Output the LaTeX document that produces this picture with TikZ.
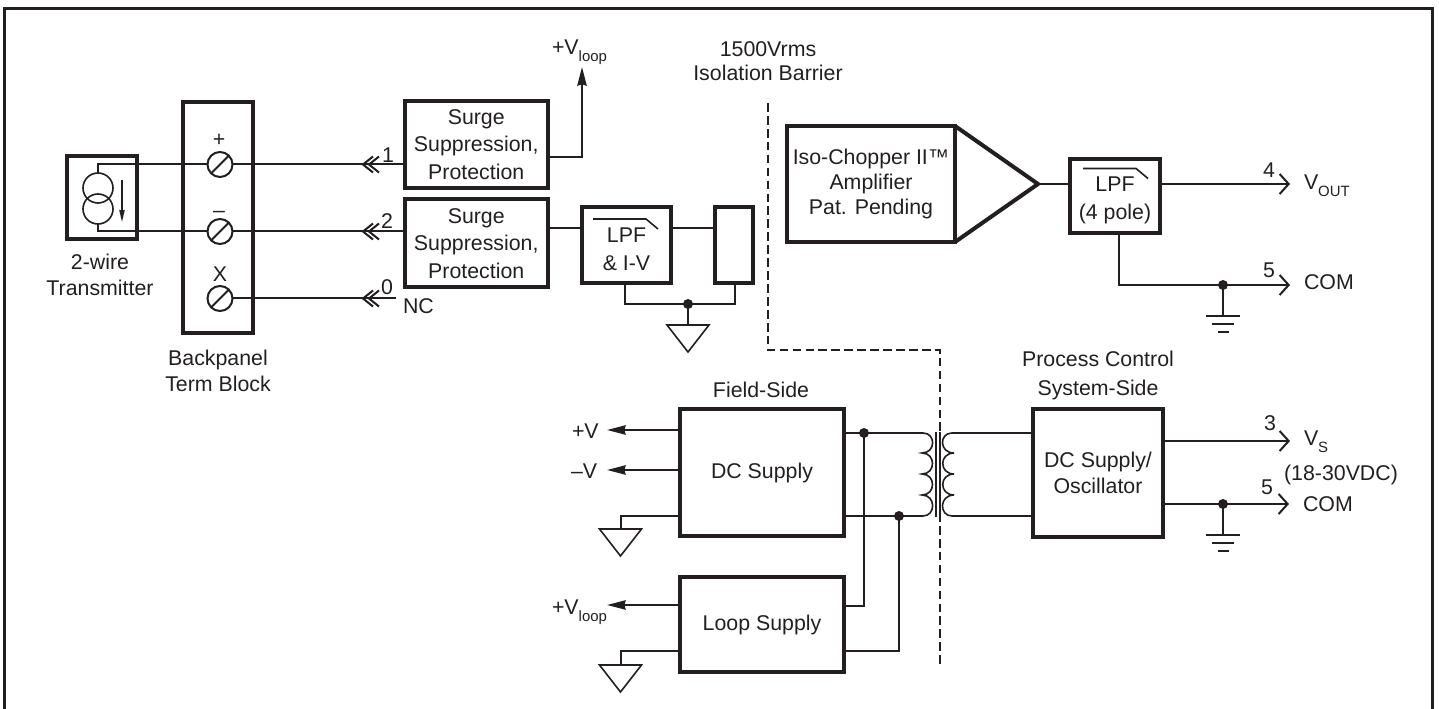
\documentclass[tikz,border=0pt]{standalone}
\usepackage{fontspec}
\setmainfont{Liberation Sans}
\usetikzlibrary{arrows.meta}
\definecolor{ink}{HTML}{231F20}
\newcommand{\bodyfont}[1]{\fontsize{16}{#1}\selectfont}
\newcommand{\sbs}[1]{\raisebox{-5pt}{\fontsize{11.2}{11.2}\selectfont #1}}
\tikzset{
  wire/.style={draw=ink,line width=1.5pt},
  thinw/.style={draw=ink,line width=1.2pt},
  blkbox/.style={draw=ink,line width=3pt,inner sep=0pt,outer sep=0pt,align=center,text=ink},
  lbl/.style={inner sep=0pt,outer sep=0pt,text=ink,font=\bodyfont{19},text height=11.5pt,text depth=0pt},
  mlbl/.style={inner sep=0pt,outer sep=0pt,text=ink,align=center},
  smalldot/.style={circle,fill=ink,draw=none,minimum size=7.5pt,inner sep=0pt,outer sep=0pt},
  screw/.style={circle,draw=ink,line width=1.5pt,minimum size=18.75pt,inner sep=0pt,outer sep=0pt},
  srccirc/.style={circle,draw=ink,line width=1.2pt,minimum size=22.5pt,inner sep=0pt,outer sep=0pt},
  fillarrow/.style={wire,-{Stealth[length=14pt,width=7pt,inset=1pt]}},
  openarrow/.style={wire,-{Straight Barb[length=6.75pt,width=15pt]}},
  barrier/.style={draw=ink,line width=1.1pt,dash pattern=on 6.5pt off 3.2pt},
}
\newcommand{\blk}[7][19]{%
  \pgfmathsetmacro\bw{(#5-#3)*0.75}%
  \pgfmathsetmacro\bh{(#6-#4)*0.75}%
  \pgfmathsetmacro\bx{(#5+#3)/2}%
  \pgfmathsetmacro\by{(#6+#4)/2}%
  \node[blkbox,font=\bodyfont{#1},minimum width=\bw pt,minimum height=\bh pt] (#2) at (\bx,\by) {#7};}
\newcommand{\chev}[2]{%
  \draw[wire] (#1+10,#2-8) -- (#1,#2) -- (#1+10,#2+8);
  \draw[wire] (#1+6+10,#2-8) -- (#1+6,#2) -- (#1+6+10,#2+8);}
\newcommand{\gndtri}[3]{%
  \coordinate (#1) at (#2,#3);
  \draw[thinw,line join=miter] (#2-21,#3) -- (#2+21,#3) -- (#2,#3+27) -- cycle;}
\newcommand{\earth}[3]{%
  \coordinate (#1) at (#2,#3);
  \draw[thinw] (#2-17,#3) -- (#2+17,#3);
  \draw[thinw] (#2-11,#3+8) -- (#2+11,#3+8);
  \draw[thinw] (#2-5.5,#3+16) -- (#2+5.5,#3+16);}
\newcommand{\lpfmark}[2]{%
  \draw[thinw] (#1,#2) -- (#1+53,#2) -- (#1+65,#2+10);}
\begin{document}
\begin{tikzpicture}[x=0.75pt,y=-0.75pt]
\useasboundingbox (0,0) rectangle (1439,709);
% frame
\draw[ink,line width=2.4pt,line join=miter] (4.7,709) -- (4.7,8.5) -- (1432.5,8.5) -- (1432.5,709);

% transmitter
\blk{tx}{67}{156}{137}{239}{}
\node[srccirc] (c1) at (98,188) {};
\node[srccirc] (c2) at (98,209) {};
\coordinate (ta1) at (122,180);
\coordinate (ta2) at (122,222);
\draw[thinw,-{Stealth[length=9pt,width=4pt,inset=0.5pt]}] (ta1) -- (ta2);
\node[mlbl,font=\bodyfont{19.5}] (txl) at (100,274.5) {2-wire\\Transmitter};

% terminal block
\blk{tb}{183}{102}{253}{333}{}
\node[screw] (s1) at (220,164.5) {};
\node[screw] (s2) at (220,231.5) {};
\node[screw] (s3) at (220,298.5) {};
\foreach \s in {s1,s2,s3} \draw[wire] (\s.south west) -- (\s.north east);
\node[lbl] (lp) at (219,139) {+};
\node[lbl] (lm) at (219,210) {–};
\node[lbl] (lx) at (220,274) {X};
\node[mlbl,font=\bodyfont{19}] (tbl) at (218,371) {Backpanel\\Term Block};

\draw[wire] (c1.north) |- (s1.west);
\draw[wire] (c2.south) |- (s2.west);

% surge blocks
\blk[20.6]{su1}{404.5}{101}{548}{188}{Surge\\Suppression,\\Protection}
\blk[20.6]{su2}{404.5}{199.5}{548}{287}{Surge\\Suppression,\\Protection}
\draw[wire] (s1.east) -- (su1.west |- s1.east);
\draw[wire] (s2.east) -- (su2.west |- s2.east);
\coordinate (ncend) at (396,298.5);
\draw[wire] (s3.east) -- (ncend);
\chev{363}{164.5}
\chev{363}{231.5}
\chev{363}{298.5}
\node[lbl] (n1) at (388,155) {1};
\node[lbl] (n2) at (387,221) {2};
\node[lbl] (n0) at (387,287) {0};
\node[lbl,anchor=west] (nc) at (403,306) {NC};

% +Vloop top
\coordinate (vl1) at (582,67);
\draw[fillarrow] (su1.east |- 0,157) -| (vl1);
\node[lbl,anchor=west] (vlt1) at (552,47) {+V\sbs{loop}};

% LPF & I-V
\blk[21]{lpf1}{582}{207}{671}{283}{\rule{0pt}{18pt}LPF\\\& I-V}
\lpfmark{593}{219}
\blk{rb}{715}{207}{753}{283}{}
\draw[wire] (su2.east |- 0,228) -- (lpf1.west |- 0,228);
\draw[wire] (lpf1.east |- 0,228) -- (rb.west |- 0,228);
\node[smalldot] (d1) at (688,304) {};
\gndtri{g1}{688}{325}
\draw[wire] (lpf1.south -| 625,0) |- (d1.center);
\draw[wire] (rb.south -| 735,0) |- (d1.center);
\draw[wire] (d1.center) -- (g1);

% barrier
\coordinate (b0) at (768,103);
\coordinate (b1) at (768,350);
\coordinate (b2) at (940,350);
\coordinate (b3) at (940,665);
\draw[barrier] (b0) -- (b1) -- (b2) -- (b3);
\node[mlbl,font=\bodyfont{18}] (bl) at (768,61) {1500Vrms\\Isolation Barrier};

% amplifier
\blk[18.75]{iso}{787}{126}{955}{242}{Iso-Chopper II™\\Amplifier\\Pat. Pending}
\coordinate (tip) at (1038,184);
\draw[ink,line width=3pt,line join=miter] (iso.north east) -- (tip) -- (iso.south east);
\blk[21]{lpf2}{1070}{159}{1160}{233}{\rule{0pt}{17pt}LPF\\(4 pole)}
\lpfmark{1083}{168.5}
\draw[wire] (tip) -- (lpf2.west |- tip);
\coordinate (o4) at (1290,184);
\draw[openarrow] (lpf2.east |- o4) -- (o4);
\node[lbl] (n4) at (1269,170) {4};
\node[lbl,anchor=west] (vout) at (1304,182) {V\sbs{OUT}};
\node[smalldot] (d2) at (1223,285) {};
\coordinate (o5) at (1290,285);
\draw[wire] (lpf2.south -| 1119,0) |- (d2.center);
\draw[openarrow] (d2.center) -- (o5);
\earth{e1}{1223}{316}
\draw[wire] (d2.center) -- (e1);
\node[lbl] (n5a) at (1269,270) {5};
\node[lbl,anchor=west] (com1) at (1304,282) {COM};

% supplies
\node[lbl] (fs) at (761,390) {Field-Side};
\blk{dc}{680}{409}{844}{536}{DC Supply}
\blk{ls}{680}{577}{844}{672}{Loop Supply}
\coordinate (a1) at (607,430);
\coordinate (a2) at (607,470);
\coordinate (a3) at (607,605);
\draw[fillarrow] (dc.west |- a1) -- (a1);
\draw[fillarrow] (dc.west |- a2) -- (a2);
\draw[fillarrow] (ls.west |- a3) -- (a3);
\node[lbl,anchor=west] (pv) at (572,431) {+V};
\node[lbl,anchor=west] (mv) at (571,471) {–V};
\node[lbl,anchor=west] (vlt2) at (552,607) {+V\sbs{loop}};
\gndtri{g2}{620.5}{529}
\gndtri{g3}{620.5}{665}
\draw[wire] (dc.west |- 0,516) -| (g2);
\draw[wire] (ls.west |- 0,651) -| (g3);

% transformer
\coordinate (tl1) at (923,433);
\coordinate (tl2) at (923,516);
\coordinate (tr1) at (952,433);
\coordinate (tr2) at (952,516);
\node[smalldot] (d3) at (864,433) {};
\node[smalldot] (d4) at (899,516) {};
\draw[wire] (dc.east |- tl1) -- (tl1);
\draw[wire] (dc.east |- tl2) -- (tl2);
\draw[wire] (d3.center) |- (ls.east |- 0,606);
\draw[wire] (d4.center) |- (ls.east |- 0,651);
\draw[thinw] (tl1) .. controls (936,433) and (936,453) .. (922,453)
  .. controls (936,453) and (936,474) .. (922,474)
  .. controls (936,474) and (936,495) .. (922,495)
  .. controls (936,495) and (936,516) .. (tl2);
\draw[thinw] (tr1) .. controls (939,433) and (939,453) .. (954,453)
  .. controls (939,453) and (939,474) .. (954,474)
  .. controls (939,474) and (939,495) .. (954,495)
  .. controls (939,495) and (939,516) .. (tr2);
\coordinate (core1) at (936,432);
\coordinate (core2) at (936,517);
\coordinate (core3) at (940,432);
\coordinate (core4) at (940,517);
\draw[thinw] (core1) -- (core2);
\draw[thinw] (core3) -- (core4);

% system side
\node[mlbl,font=\bodyfont{21.7}] (pcl) at (1098,375.5) {Process Control\\System-Side};
\blk[20]{psu}{1033}{409}{1163}{537}{DC Supply/\\Oscillator}
\draw[wire] (tr1) -- (psu.west |- tr1);
\draw[wire] (tr2) -- (psu.west |- tr2);
\coordinate (o3) at (1290,441);
\draw[openarrow] (psu.east |- o3) -- (o3);
\node[lbl] (n3) at (1270,423) {3};
\node[lbl,anchor=west] (vs) at (1304,438) {V\sbs{S}};
\node[lbl] (rng) at (1341,473) {(18-30VDC)};
\node[smalldot] (d5) at (1223,504) {};
\coordinate (o6) at (1289,504);
\draw[wire] (psu.east |- d5) -- (d5.center);
\draw[openarrow] (d5.center) -- (o6);
\earth{e2}{1223}{535}
\draw[wire] (d5.center) -- (e2);
\node[lbl] (n5b) at (1267,487) {5};
\node[lbl,anchor=west] (com2) at (1303,504) {COM};
\end{tikzpicture}
\end{document}
